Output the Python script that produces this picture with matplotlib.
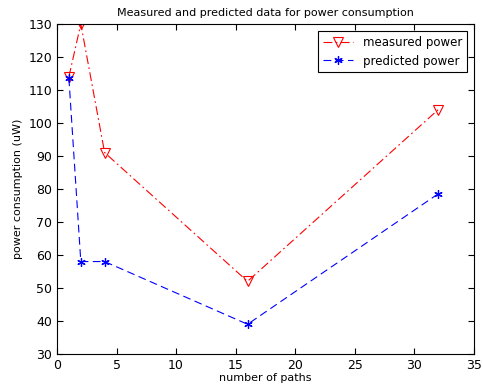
import matplotlib
matplotlib.use("Agg")
import matplotlib.pyplot as plt

paths = [1, 2, 4, 16, 32]
measured = [114, 130, 91, 52, 104]
predicted = [113.5, 58, 58, 39, 78.5]

plt.rcParams['font.family'] = 'DejaVu Sans'
plt.rcParams['font.size'] = 8

fig = plt.figure(figsize=(4.83, 3.92), dpi=100)
ax = fig.add_axes([0.118, 0.097, 0.863, 0.842])

ax.plot(paths, measured, color='r', linestyle='-.', dashes=[8, 3, 1.5, 3],
        linewidth=0.8, marker='v', markersize=6.5, markerfacecolor='none',
        markeredgecolor='r', markeredgewidth=0.8, label='measured power')
ax.plot(paths, predicted, color='b', linestyle='--', dashes=[7, 4],
        linewidth=0.8, marker=(6, 2, 0), markersize=6,
        markeredgecolor='b', markeredgewidth=0.9, label='predicted power')

ax.set_xlim(0, 35)
ax.set_ylim(30, 130)
ax.set_xticks(range(0, 36, 5))
ax.set_yticks(range(30, 131, 10))
ax.tick_params(direction='in', top=True, right=True, length=4, labelsize=9)
for s in ax.spines.values():
    s.set_linewidth(0.8)

ax.set_title('Measured and predicted data for power consumption', fontsize=8)
ax.set_xlabel('number of paths', fontsize=8, labelpad=1)
ax.set_ylabel('power consumption (uW)', fontsize=8)

leg = ax.legend(loc='upper right', fontsize=8.5, fancybox=False,
                edgecolor='k', framealpha=1, borderaxespad=0.6,
                handlelength=2.6)
leg.get_frame().set_linewidth(0.8)

fig.savefig('out.png', dpi=100)
